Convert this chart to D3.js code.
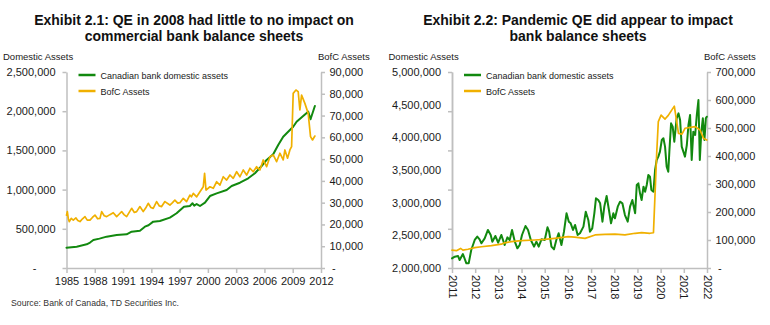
<!DOCTYPE html>
<html lang="en">
<head>
<meta charset="UTF-8">
<title>Exhibits 2.1 and 2.2</title>
<script src="https://d3js.org/d3.v7.min.js"></script>
<style>
  body { margin: 0; background: #fff; font-family: "Liberation Sans", Arial, sans-serif; }
  svg { display: block; background: #fff; }
  .axis path, .axis line { stroke: #bfbfbf; stroke-width: 1.5px; }
  .axis text { font-size: 11px; fill: #1a1a1a; font-family: "Liberation Sans", Arial, sans-serif; }
  .title { font-size: 14px; font-weight: bold; fill: #111; }
  .caption { font-size: 9.5px; fill: #1a1a1a; }
  .legend { font-size: 9px; fill: #1a1a1a; }
  .series { fill: none; stroke-linejoin: round; stroke-linecap: round; }
</style>
</head>
<body>
<div id="chart"></div>
<script>
// Exhibit 2.1 - [year, value]
const bankAssets8511 = [
  [1985.0, 259000], [1986.08, 272000], [1987.14, 302000], [1987.5, 325000], [1987.85, 357000],
  [1988.5, 375000], [1989.26, 400000], [1990.32, 421000], [1991.38, 430000], [1991.91, 463000],
  [1992.79, 476000], [1993.32, 527000], [1993.7, 545000], [1994.2, 591000], [1994.91, 600000],
  [1995.97, 642000], [1996.68, 698000], [1997.46, 782000], [1998.09, 791000], [1998.37, 825000],
  [1998.55, 795000], [1998.81, 816000], [1999.16, 791000], [1999.69, 833000], [2000.22, 918000],
  [2000.93, 952000], [2001.99, 995000], [2002.52, 1046000], [2003.4, 1088000], [2004.28, 1144000],
  [2004.99, 1208000], [2005.7, 1301000], [2006.23, 1378000], [2006.93, 1450000], [2007.46, 1569000],
  [2007.99, 1675000], [2008.7, 1760000], [2009.05, 1802000], [2009.41, 1866000], [2010.11, 1939000],
  [2010.64, 1994000], [2010.89, 1897000], [2011.35, 2066000]
];
const bofcAssets8511 = [
  [1985.0, 24300], [1985.09, 25900], [1985.2, 22500], [1985.3, 21300], [1985.5, 22800],
  [1985.72, 22000], [1986.0, 23000], [1986.2, 21800], [1986.43, 21300], [1986.7, 22600],
  [1986.96, 23600], [1987.2, 22000], [1987.49, 22000], [1987.75, 23200], [1988.02, 24300],
  [1988.3, 22600], [1988.55, 22800], [1988.73, 25900], [1989.0, 24000], [1989.26, 23600],
  [1989.6, 24500], [1989.96, 25400], [1990.32, 23600], [1990.6, 24800], [1990.85, 25900],
  [1991.1, 24500], [1991.38, 23600], [1991.91, 27400], [1992.2, 25500], [1992.44, 25900],
  [1992.79, 28200], [1993.14, 25900], [1993.4, 27500], [1993.67, 29700], [1993.95, 27800],
  [1994.2, 27400], [1994.56, 30500], [1994.85, 28500], [1995.09, 28200], [1995.44, 30500],
  [1995.97, 28900], [1996.25, 30000], [1996.5, 31200], [1996.8, 29800], [1997.03, 30000],
  [1997.39, 32000], [1997.74, 30500], [1998.09, 33500], [1998.25, 32700], [1998.45, 34300],
  [1998.81, 32700], [1999.16, 35000], [1999.51, 37300], [1999.65, 43500], [1999.8, 35800],
  [2000.22, 37300], [2000.57, 36600], [2000.93, 39600], [2001.28, 38100], [2001.63, 41900],
  [2001.99, 40400], [2002.34, 42700], [2002.69, 41200], [2003.05, 44200], [2003.4, 41900],
  [2003.75, 45000], [2004.11, 42700], [2004.46, 45800], [2004.81, 44200], [2005.17, 46500],
  [2005.52, 45000], [2005.87, 49600], [2006.23, 46500], [2006.58, 51100], [2006.93, 51900],
  [2007.29, 48800], [2007.64, 52700], [2007.99, 49600], [2008.17, 54200], [2008.45, 50400],
  [2008.7, 54200], [2008.88, 55700], [2009.05, 80200], [2009.34, 81700], [2009.58, 81000],
  [2009.76, 72600], [2009.94, 79400], [2010.29, 75600], [2010.64, 71000], [2010.89, 60300],
  [2011.1, 58800], [2011.35, 60600]
];

// Exhibit 2.2 - [year, value]
const bankAssets1122 = [
  [2011.0, 2148000], [2011.12, 2173000], [2011.26, 2184000], [2011.33, 2122000], [2011.47, 2214000],
  [2011.62, 2071000], [2011.72, 2071000], [2011.83, 2276000], [2011.98, 2429000], [2012.09, 2480000],
  [2012.19, 2439000], [2012.27, 2378000], [2012.41, 2454000], [2012.55, 2582000], [2012.67, 2505000],
  [2012.74, 2403000], [2012.87, 2490000], [2012.99, 2387000], [2013.13, 2505000], [2013.27, 2352000],
  [2013.39, 2469000], [2013.49, 2429000], [2013.59, 2582000], [2013.71, 2403000], [2013.82, 2301000],
  [2013.92, 2352000], [2014.02, 2505000], [2014.17, 2643000], [2014.28, 2582000], [2014.4, 2429000],
  [2014.54, 2327000], [2014.64, 2403000], [2014.74, 2327000], [2014.86, 2439000], [2015.0, 2429000],
  [2015.12, 2623000], [2015.19, 2556000], [2015.29, 2327000], [2015.4, 2286000], [2015.5, 2429000],
  [2015.6, 2531000], [2015.72, 2352000], [2015.83, 2556000], [2015.94, 2837000], [2016.04, 2709000],
  [2016.12, 2684000], [2016.22, 2582000], [2016.31, 2658000], [2016.42, 2505000], [2016.52, 2531000],
  [2016.67, 2633000], [2016.77, 2862000], [2016.88, 2735000], [2016.95, 2556000], [2017.05, 2607000],
  [2017.14, 2837000], [2017.21, 3066000], [2017.31, 3041000], [2017.39, 2990000], [2017.49, 2709000],
  [2017.57, 2939000], [2017.67, 3102000], [2017.77, 2888000], [2017.86, 2684000], [2017.96, 2837000],
  [2018.03, 2760000], [2018.15, 2939000], [2018.25, 3015000], [2018.35, 2990000], [2018.46, 2811000],
  [2018.58, 2709000], [2018.68, 2939000], [2018.78, 3041000], [2018.9, 2837000], [2018.97, 3270000],
  [2019.04, 3296000], [2019.11, 3143000], [2019.18, 3041000], [2019.26, 3245000], [2019.33, 3168000],
  [2019.4, 3270000], [2019.47, 3423000], [2019.54, 3398000], [2019.6, 3194000], [2019.69, 3168000],
  [2019.76, 3500000], [2019.83, 3653000], [2019.9, 3704000], [2019.97, 3781000], [2020.05, 3959000],
  [2020.12, 3985000], [2020.19, 3857000], [2020.26, 3551000], [2020.33, 3474000], [2020.38, 3806000],
  [2020.45, 4214000], [2020.52, 4163000], [2020.59, 3934000], [2020.69, 4291000], [2020.77, 4367000],
  [2020.84, 4265000], [2020.91, 3857000], [2020.98, 3781000], [2021.05, 3704000], [2021.13, 3883000],
  [2021.2, 4189000], [2021.27, 4342000], [2021.34, 3653000], [2021.41, 4087000], [2021.49, 4036000],
  [2021.56, 4342000], [2021.63, 4571000], [2021.69, 3653000], [2021.75, 4061000], [2021.82, 4291000],
  [2021.89, 3959000], [2021.95, 4291000], [2021.99, 4316000]
];
const bofcAssets1122 = [
  [2011.0, 64000], [2011.19, 62000], [2011.37, 70000], [2011.47, 64000], [2011.69, 67000],
  [2011.98, 73000], [2012.27, 76000], [2012.7, 80000], [2013.13, 85000], [2013.27, 90000],
  [2013.56, 94000], [2013.99, 98000], [2014.57, 100000], [2015.0, 102000], [2015.43, 106000],
  [2016.01, 112000], [2016.29, 110000], [2016.74, 106000], [2017.17, 118000], [2017.6, 120000],
  [2018.03, 121000], [2018.46, 118000], [2018.9, 124000], [2019.18, 126000], [2019.54, 124000],
  [2019.69, 126000], [2019.76, 267000], [2019.83, 410000], [2019.9, 523000], [2020.02, 546000],
  [2020.19, 532000], [2020.33, 545000], [2020.59, 578000], [2020.77, 481000], [2020.92, 478000],
  [2021.05, 499000], [2021.49, 505000], [2021.7, 493000], [2021.85, 463000], [2021.99, 457000]
];

// axis ticks
const yearTicks21 = [1985, 1988, 1991, 1994, 1997, 2000, 2003, 2006, 2009, 2012];
const domTicks21 = [0, 500000, 1000000, 1500000, 2000000, 2500000];
const bofcTicks21 = [0, 10000, 20000, 30000, 40000, 50000, 60000, 70000, 80000, 90000];
const yearTicks22 = [2011, 2012, 2013, 2014, 2015, 2016, 2017, 2018, 2019, 2020, 2021, 2022];
const domTicks22 = [2000000, 2500000, 3000000, 3500000, 4000000, 4500000, 5000000];
const domMarks22 = [2000000, 2600000, 3200000, 3800000, 4400000, 5000000];
const bofcTicks22 = [0, 100000, 200000, 300000, 400000, 500000, 600000, 700000];

const seriesNames = ["Canadian bank domestic assets", "BofC Assets"];
const seriesColors = ["#12890f", "#f0b000"];

const W = 770, H = 325;
const plotTop = 72, plotBottom = 268;

const svg = d3.select("#chart").append("svg")
  .attr("width", W)
  .attr("height", H);

const fmt = d => d === 0 ? "-" : d3.format(",")(d);

function drawPanel(p) {
  const g = svg.append("g");
  const x = d3.scaleLinear().domain(p.xDomain).range([p.x0, p.x1]);
  const yL = d3.scaleLinear().domain(p.leftDomain).range([plotBottom, plotTop]);
  const yR = d3.scaleLinear().domain(p.rightDomain).range([plotBottom, plotTop]);

  p.title.forEach((t, i) => {
    g.append("text")
      .attr("class", "title")
      .attr("x", p.cx)
      .attr("y", 25 + i * 15.5)
      .attr("text-anchor", "middle")
      .text(t);
  });

  g.append("text").attr("class", "caption")
    .attr("x", p.x0 - 63.5).attr("y", 60).text("Domestic Assets");
  g.append("text").attr("class", "caption")
    .attr("x", p.x1 - 3).attr("y", 60).text("BofC Assets");

  // left axis (labels), optional separate tick marks
  const la = g.append("g").attr("class", "axis")
    .attr("transform", `translate(${p.x0},0)`)
    .call(d3.axisLeft(yL).tickValues(p.leftTicks).tickFormat(fmt)
      .tickSize(p.leftMarks ? 0 : 4).tickPadding(p.leftMarks ? 11 : 7).tickSizeOuter(0));
  la.selectAll(".tick text").filter(d => d === 0).attr("x", -30);
  if (p.leftMarks) {
    g.append("g").attr("class", "axis")
      .attr("transform", `translate(${p.x0},0)`)
      .call(d3.axisLeft(yL).tickValues(p.leftMarks).tickFormat("").tickSize(4).tickSizeOuter(0));
  }

  // right axis
  const ra = g.append("g").attr("class", "axis")
    .attr("transform", `translate(${p.x1},0)`)
    .call(d3.axisRight(yR).tickValues(p.rightTicks).tickFormat(fmt)
      .tickSize(4).tickPadding(4.5).tickSizeOuter(0));
  ra.selectAll(".tick text").filter(d => d === 0).attr("x", 11);

  // bottom axis
  const xa = g.append("g").attr("class", "axis")
    .attr("transform", `translate(0,${plotBottom})`)
    .call(d3.axisBottom(x).tickValues(p.xTicks).tickFormat(d3.format("d"))
      .tickSize(5).tickPadding(4).tickSizeOuter(0));
  if (p.rotate) {
    xa.selectAll(".tick text")
      .attr("transform", "rotate(90)")
      .attr("x", 7)
      .attr("y", 0)
      .attr("dy", "0.35em")
      .style("text-anchor", "start");
  }

  const lineL = d3.line().x(d => x(d[0])).y(d => yL(d[1]));
  const lineR = d3.line().x(d => x(d[0])).y(d => yR(d[1]));

  g.append("path").datum(p.bank)
    .attr("class", "series")
    .attr("stroke", seriesColors[0])
    .attr("stroke-width", 2)
    .attr("d", lineL);
  g.append("path").datum(p.bofc)
    .attr("class", "series")
    .attr("stroke", seriesColors[1])
    .attr("stroke-width", 1.7)
    .attr("d", lineR);

  // legend
  seriesNames.forEach((name, i) => {
    const ly = 75 + i * 16;
    g.append("line")
      .attr("x1", p.x0 + 12).attr("x2", p.x0 + 29)
      .attr("y1", ly).attr("y2", ly)
      .attr("stroke", seriesColors[i]).attr("stroke-width", 2.5);
    g.append("text").attr("class", "legend")
      .attr("x", p.x0 + 34).attr("y", ly + 3.5)
      .text(name);
  });
}

drawPanel({
  title: ["Exhibit 2.1: QE in 2008 had little to no impact on", "commercial bank balance sheets"],
  cx: 194, x0: 66.5, x1: 321,
  xDomain: [1985, 2012], xTicks: yearTicks21, rotate: false,
  leftDomain: [0, 2500000], leftTicks: domTicks21,
  rightDomain: [0, 90000], rightTicks: bofcTicks21,
  bank: bankAssets8511, bofc: bofcAssets8511
});

drawPanel({
  title: ["Exhibit 2.2: Pandemic QE did appear to impact", "bank balance sheets"],
  cx: 578, x0: 452, x1: 707,
  xDomain: [2011, 2022], xTicks: yearTicks22, rotate: true,
  leftDomain: [2000000, 5000000], leftTicks: domTicks22, leftMarks: domMarks22,
  rightDomain: [0, 700000], rightTicks: bofcTicks22,
  bank: bankAssets1122, bofc: bofcAssets1122
});

svg.append("text")
  .attr("x", 11).attr("y", 306)
  .attr("font-size", "8.7px").attr("fill", "#333")
  .text("Source: Bank of Canada, TD Securities Inc.");
</script>
</body>
</html>
